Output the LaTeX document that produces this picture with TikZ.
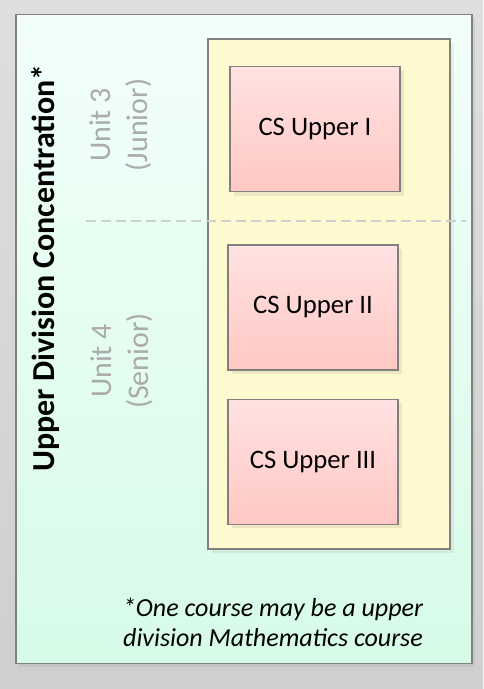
\documentclass[tikz,border=0pt]{standalone}
\usepackage{fontspec}
\setmainfont{Carlito}
\usetikzlibrary{positioning, shadows}

\definecolor{bgTop}{HTML}{DEDEDE}
\definecolor{bgBot}{HTML}{CFCFCF}
\definecolor{panelTop}{HTML}{F2FFF9}
\definecolor{panelBot}{HTML}{D7FBE8}
\definecolor{unitFill}{HTML}{FFF9CF}
\definecolor{courseTop}{HTML}{FFE2E1}
\definecolor{courseBot}{HTML}{FFC8C4}
\definecolor{unitGray}{HTML}{ABABAB}
\definecolor{frameGray}{HTML}{808080}

\begin{document}
\begin{tikzpicture}[
        x=0.75pt, y=0.75pt,
        % --- Styles ---
        frame/.style={rectangle, draw=frameGray, line width=1pt, inner sep=0pt},
        panel/.style={frame, top color=panelTop, bottom color=panelBot, minimum width=342pt, minimum height=486.75pt, drop shadow={shadow xshift=2.5pt, shadow yshift=-2.5pt, opacity=0.15}},
        unitbox/.style={frame, fill=unitFill, minimum width=181.5pt, minimum height=382.5pt, drop shadow={shadow xshift=3pt, shadow yshift=-3pt, opacity=0.12}},
        course/.style={frame, top color=courseTop, bottom color=courseBot, minimum width=127.5pt, minimum height=93.75pt, font=\fontsize{20}{24}\selectfont, drop shadow={shadow xshift=3pt, shadow yshift=-3pt, opacity=0.15}},
        heading/.style={rotate=90, font=\fontsize{24}{29}\selectfont\bfseries},
        unitlabel/.style={rotate=90, align=center, text=unitGray, font=\fontsize{22.5}{27.5}\selectfont},
        divider/.style={draw=black!19, line width=1.1pt, dash pattern=on 7.5pt off 3.75pt}
    ]

        % --- Background ---
        \shade[top color=bgTop, bottom color=bgBot] (0,0) rectangle (483,-689);
        \node[panel] (panel) at (244,-339) {};
        \node[unitbox] (units) at (329,-294) {};

        % --- Unit divider ---
        \coordinate (divL) at (86,-221);
        \coordinate (divR) at (466,-221);
        \draw[divider] (divL) -- (divR);

        % --- Courses ---
        \node[course] (upperI) at (315,-129) {CS Upper I};
        \node[course, below=39pt of upperI.south west, anchor=north west, xshift=-1.5pt] (upperII) {CS Upper II};
        \node[course, below=21pt of upperII] (upperIII) {CS Upper III};

        % --- Labels ---
        \node[heading] (title) at (46,-268) {Upper Division Concentration*};
        \node[unitlabel] (junior) at (121,-125) {Unit 3\\(Junior)};
        \node[unitlabel] (senior) at (122,-361) {Unit 4\\(Senior)};
        \node[align=center, font=\fontsize{19.5}{22.5}\selectfont\itshape] (note) at (273,-622) {*One course may be a upper\\division Mathematics course};

    \end{tikzpicture}
\end{document}
